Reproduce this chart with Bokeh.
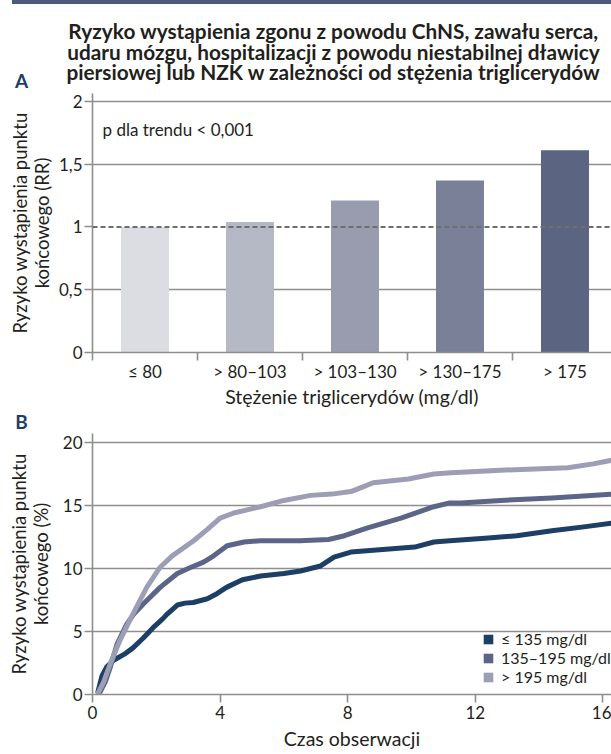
from bokeh.plotting import figure
from bokeh.models import (Range1d, FixedTicker, Label, Span, Legend, LegendItem,
                          ColumnDataSource, Spacer)
from bokeh.layouts import column, row
from bokeh.embed import file_html
from bokeh.resources import INLINE

FONT = "Lato"
TXT = "#231f20"
GRID = "#8e8e8e"
NAVY = "#1d3f65"
NAN = float("nan")

# ---------------- data: panel A ----------------
categories = ["\u2264 80", "> 80\u2013103", "> 103\u2013130", "> 130\u2013175", "> 175"]
rr_values = [1.00, 1.04, 1.21, 1.37, 1.61]
bar_colors = ["#dcdde3", "#b5b8c5", "#999cae", "#7b8099", "#5b6581"]
y_ticks_a = [0, 0.5, 1, 1.5, 2]
y_labels_a = ["0", "0,5", "1", "1,5", "2"]

# ---------------- data: panel B ----------------
t_low = [0.17, 0.3, 0.45, 0.65, 1.0, 1.27, 1.6, 1.9, 2.2, 2.35, 2.66, 2.9, 3.16, 3.6, 3.9,
         4.2, 4.7, 5.27, 6.0, 6.52, 7.15, 7.57, 8.1, 9.1, 10.1, 10.7, 11.2, 12.3, 13.3,
         14.4, 15.4, 16.3]
y_low = [0.2, 1.5, 2.2, 2.7, 3.2, 3.7, 4.5, 5.3, 6.0, 6.4, 7.1, 7.25, 7.3, 7.6, 8.0,
         8.5, 9.1, 9.4, 9.6, 9.8, 10.2, 10.9, 11.3, 11.5, 11.7, 12.1, 12.2, 12.4, 12.6,
         13.0, 13.3, 13.6]
t_mid = [0.24, 0.4, 0.55, 0.77, 1.08, 1.3, 1.6, 2.12, 2.66, 3.0, 3.48, 3.8, 4.22, 4.75,
         5.27, 6.5, 7.4, 7.9, 8.6, 9.67, 10.7, 11.2, 11.55, 12.8, 14.4, 16.3]
y_mid = [0.2, 1.0, 2.1, 4.0, 5.6, 6.4, 7.2, 8.5, 9.6, 10.0, 10.5, 11.0, 11.8, 12.1,
         12.2, 12.2, 12.3, 12.6, 13.2, 14.0, 14.9, 15.2, 15.2, 15.4, 15.6, 15.9]
t_high = [0.18, 0.35, 0.55, 0.86, 1.27, 1.7, 2.12, 2.5, 3.17, 3.6, 4.0, 4.43, 5.27, 6.0,
          6.84, 7.5, 8.1, 8.4, 8.8, 9.9, 10.7, 11.24, 12.8, 14.9, 15.7, 16.3]
y_high = [0.15, 1.0, 2.4, 4.3, 6.4, 8.5, 10.1, 11.0, 12.2, 13.1, 14.0, 14.4, 14.9, 15.4,
          15.8, 15.9, 16.1, 16.4, 16.8, 17.1, 17.5, 17.6, 17.8, 18.0, 18.3, 18.6]
series_labels = ["\u2264 135 mg/dl", "135\u2013195 mg/dl", "> 195 mg/dl"]
series_colors = ["#1d3f65", "#5a6587", "#9b9eb5"]
x_ticks_b = [0, 4, 8, 12, 16]
y_ticks_b = [0, 5, 10, 15, 20]

title_lines = ["Ryzyko wyst\u0105pienia zgonu z powodu ChNS, zawa\u0142u serca,",
               "udaru m\u00f3zgu, hospitalizacji z powodu niestabilnej d\u0142awicy",
               "piersiowej lub NZK w zale\u017cno\u015bci od st\u0119\u017cenia trigliceryd\u00f3w"]


def text_strip(width, height):
    p = figure(width=width, height=height, x_range=Range1d(0, 1), y_range=Range1d(0, 1),
               x_axis_type=None, y_axis_type=None, output_backend="svg",
               toolbar_location=None, min_border=0, min_border_left=0,
               min_border_right=0, min_border_top=0, min_border_bottom=0)
    p.outline_line_color = None
    p.xgrid.visible = False
    p.ygrid.visible = False
    try:
        p.frame_align = False
    except Exception:
        pass
    return p


def lab(p, text, x, y, size, bold=False, color=TXT, align="left"):
    p.add_layout(Label(x=x, y=y, x_units="screen", y_units="screen", text=text,
                       text_font=FONT, text_font_size=size,
                       text_font_style="bold" if bold else "normal",
                       text_color=color, text_align=align, text_baseline="middle"))


def style_axes(p):
    p.outline_line_color = None
    for ax in (p.xaxis[0], p.yaxis[0]):
        ax.axis_line_color = GRID
        ax.axis_line_width = 1.6
        ax.major_tick_line_color = GRID
        ax.major_tick_line_width = 1.6
        ax.minor_tick_line_color = None
        ax.major_label_text_font = FONT
        ax.major_label_text_font_size = "17px"
        ax.major_label_text_color = TXT
        ax.axis_label_text_font = FONT
        ax.axis_label_text_font_size = "18.5px"
        ax.axis_label_text_font_style = "normal"
        ax.axis_label_text_color = TXT
        ax.axis_label_text_line_height = 1.0
    p.xaxis[0].axis_label_text_font_size = "19.5px"
    p.yaxis[0].major_tick_in = 0
    p.yaxis[0].major_tick_out = 8
    p.yaxis[0].major_label_standoff = 2
    p.xgrid.visible = False
    p.ygrid.grid_line_color = GRID
    p.ygrid.grid_line_width = 1.6


# ---------------- top band ----------------
band = row(Spacer(width=12, height=4),
           Spacer(width=599, height=4, styles={"background-color": "#4d5a7c"}),
           spacing=0)

# ---------------- title strip (page y 4..91) ----------------
head = text_strip(611, 87)
for line, yy in zip(title_lines, [61, 40.5, 20]):
    lab(head, line, 333, yy, "20.8px", bold=True, align="center")
lab(head, "A", 21, 11.5, "19px", bold=True, color=NAVY, align="center")

# ---------------- panel A (page y 91..410) ----------------
xs = [i + 0.5 for i in range(len(categories))]
srcA = ColumnDataSource(dict(x=xs, top=rr_values, color=bar_colors))
pA = figure(width=611, height=319, x_range=Range1d(0, 4.943), y_range=Range1d(0, 2.063),
            output_backend="svg", toolbar_location=None,
            min_border_left=92, min_border_right=0, min_border_top=2,
            min_border_bottom=56)
pA.vbar(x="x", top="top", width=0.457, color="color", line_color=None, source=srcA)
style_axes(pA)
pA.xaxis[0].ticker = FixedTicker(ticks=xs, minor_ticks=list(range(len(categories) + 1)))
pA.xaxis[0].major_label_overrides = {x: c for x, c in zip(xs, categories)}
pA.xaxis[0].major_tick_line_color = None
pA.xaxis[0].major_tick_out = 0
pA.xaxis[0].major_label_standoff = 0
pA.xaxis[0].minor_tick_line_color = GRID
pA.xaxis[0].minor_tick_line_width = 1.6
pA.xaxis[0].minor_tick_in = 0
pA.xaxis[0].minor_tick_out = 8
pA.xaxis[0].axis_label = "St\u0119\u017cenie trigliceryd\u00f3w (mg/dl)"
pA.xaxis[0].axis_label_standoff = 0
pA.yaxis[0].ticker = FixedTicker(ticks=y_ticks_a)
pA.yaxis[0].major_label_overrides = {v: s for v, s in zip(y_ticks_a, y_labels_a)}
pA.yaxis[0].axis_label = "Ryzyko wyst\u0105pienia punktu\nko\u0144cowego (RR)"
pA.yaxis[0].axis_label_standoff = 3
pA.ygrid.ticker = FixedTicker(ticks=[0.5, 1.5, 2])
pA.add_layout(Span(location=1, dimension="width", line_color="#6e6e6e",
                   line_width=2, line_dash="5 3"))
lab(pA, "p dla trendu < 0,001", 10, 223, "17px")

# ---------------- "B" strip (page y 410..432) ----------------
bstrip = text_strip(611, 22)
lab(bstrip, "B", 21, 11.5, "19px", bold=True, color=NAVY, align="center")

# ---------------- panel B (page y 432..754) ----------------
pB = figure(width=611, height=322, x_range=Range1d(0, 16.27), y_range=Range1d(0, 20.71),
            output_backend="svg", toolbar_location=None,
            min_border_left=92, min_border_right=0, min_border_top=1,
            min_border_bottom=60)
style_axes(pB)
pB.xaxis[0].ticker = FixedTicker(ticks=x_ticks_b)
pB.xaxis[0].major_tick_in = 0
pB.xaxis[0].major_tick_out = 8
pB.xaxis[0].major_label_standoff = 3
pB.xaxis[0].axis_label = "Czas obserwacji"
pB.xaxis[0].axis_label_standoff = 5
pB.yaxis[0].ticker = FixedTicker(ticks=y_ticks_b)
pB.yaxis[0].axis_label = "Ryzyko wyst\u0105pienia punktu\nko\u0144cowego (%)"
pB.yaxis[0].axis_label_standoff = 8
pB.ygrid.ticker = FixedTicker(ticks=[5, 10, 15, 20])

for tt, yy, col in zip([t_low, t_mid, t_high], [y_low, y_mid, y_high], series_colors):
    pB.line(tt, yy, line_color=col, line_width=5, line_cap="round", line_join="round")

items = []
for lbl, col in zip(series_labels, series_colors):
    r = pB.quad(left=[NAN], right=[NAN], top=[NAN], bottom=[NAN], fill_color=col,
                line_color=None)
    items.append(LegendItem(label=lbl, renderers=[r]))
leg = Legend(items=items, location=(390, 8), glyph_width=12, glyph_height=12,
             label_standoff=7, spacing=0, padding=0, margin=0,
             border_line_color=None, background_fill_alpha=0,
             label_text_font=FONT, label_text_font_size="16px",
             label_text_color=TXT)
pB.add_layout(leg)

layout = column(band, head, pA, bstrip, pB, spacing=0)
open("out.html", "w").write(file_html(layout, INLINE))
